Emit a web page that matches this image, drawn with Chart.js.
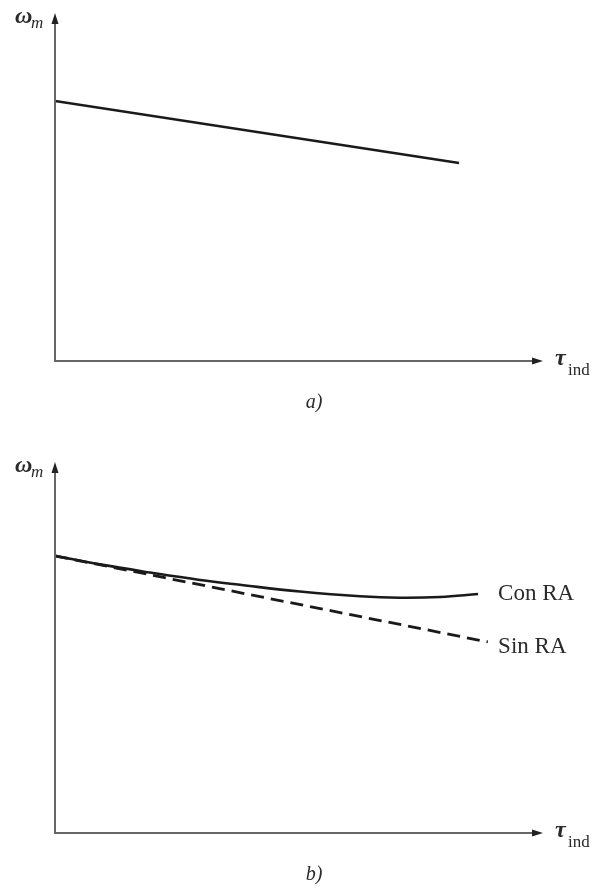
<!DOCTYPE html>
<html>
<head>
<meta charset="utf-8">
<script src="https://cdn.jsdelivr.net/npm/chart.js@4.4.1/dist/chart.umd.min.js"></script>
<style>
  body { margin: 0; background: #fff; }
  canvas { display: block; }
</style>
</head>
<body>
<canvas id="chartA" width="593" height="444"></canvas>
<canvas id="chartB" width="593" height="444"></canvas>
<script>
// torque (x) vs speed (y), arbitrary 0-100 units
const topTorque = [0, 82.8];
const topSpeed = [74.7, 56.9];

const conRaTorque = [0, 9.2, 19.5, 29.7, 37.9, 50.2, 62.5, 70.7, 78.9, 86.7];
const conRaSpeed = [74.7, 72.4, 70.2, 68.2, 66.9, 65.1, 63.8, 63.4, 63.6, 64.4];

const sinRaTorque = [0, 88.7];
const sinRaSpeed = [74.7, 51.5];

const seriesLabels = ["Con RA", "Sin RA"];
const captions = ["a)", "b)"];

const toPoints = (xs, ys) => xs.map((x, i) => ({ x: x, y: ys[i] }));

function drawAxes(chart, caption) {
    const ctx = chart.ctx;
    const a = chart.chartArea;
    ctx.save();
    ctx.strokeStyle = "#666";
    ctx.fillStyle = "#222";
    ctx.lineWidth = 2;
    ctx.beginPath();
    ctx.moveTo(a.left, a.top + 8);
    ctx.lineTo(a.left, a.bottom);
    ctx.lineTo(a.right - 8, a.bottom);
    ctx.stroke();
    // arrow heads
    ctx.beginPath();
    ctx.moveTo(a.left, a.top);
    ctx.lineTo(a.left - 3.5, a.top + 11);
    ctx.lineTo(a.left + 3.5, a.top + 11);
    ctx.closePath();
    ctx.fill();
    ctx.beginPath();
    ctx.moveTo(a.right, a.bottom);
    ctx.lineTo(a.right - 11, a.bottom - 3.5);
    ctx.lineTo(a.right - 11, a.bottom + 3.5);
    ctx.closePath();
    ctx.fill();

    ctx.fillStyle = "#2a2a2a";
    ctx.textBaseline = "alphabetic";
    ctx.textAlign = "left";
    ctx.font = "italic bold 24px 'Liberation Serif'";
    ctx.fillText("\u03c9", 15, a.top + 10);
    ctx.font = "italic 17px 'Liberation Serif'";
    ctx.fillText("m", 31, a.top + 15);

    ctx.font = "italic bold 24px 'Liberation Serif'";
    ctx.fillText("\u03c4", a.right + 12, a.bottom + 4);
    ctx.font = "17px 'Liberation Serif'";
    ctx.fillText("ind", a.right + 25, a.bottom + 14);

    ctx.textAlign = "center";
    ctx.font = "italic 20px 'Liberation Serif'";
    ctx.fillText(caption, 314, chart.height - (caption === "a)" ? 36 : 8));
    ctx.restore();
}

const commonOptions = (pad) => ({
    responsive: false,
    animation: false,
    devicePixelRatio: 1,
    layout: { padding: pad },
    plugins: { legend: { display: false }, tooltip: { enabled: false } },
    scales: {
        x: { type: "linear", min: 0, max: 100, display: false },
        y: { type: "linear", min: 0, max: 100, display: false }
    }
});

new Chart(document.getElementById("chartA"), {
    type: "line",
    data: {
        datasets: [{
            data: toPoints(topTorque, topSpeed),
            borderColor: "#1a1a1a",
            borderWidth: 2.6,
            pointRadius: 0
        }]
    },
    options: commonOptions({ left: 55, right: 50, top: 13, bottom: 83 }),
    plugins: [{
        id: "axesA",
        afterDraw: (chart) => drawAxes(chart, captions[0])
    }]
});

new Chart(document.getElementById("chartB"), {
    type: "line",
    data: {
        datasets: [{
            label: seriesLabels[0],
            data: toPoints(conRaTorque, conRaSpeed),
            borderColor: "#1a1a1a",
            borderWidth: 2.6,
            pointRadius: 0,
            tension: 0.4
        }, {
            label: seriesLabels[1],
            data: toPoints(sinRaTorque, sinRaSpeed),
            borderColor: "#1a1a1a",
            borderWidth: 2.8,
            borderDash: [13, 7],
            pointRadius: 0
        }]
    },
    options: commonOptions({ left: 55, right: 50, top: 18, bottom: 55 }),
    plugins: [{
        id: "axesB",
        afterDraw: (chart) => {
            drawAxes(chart, captions[1]);
            const ctx = chart.ctx;
            const xs = chart.scales.x;
            ctx.save();
            ctx.fillStyle = "#2a2a2a";
            ctx.font = "23px 'Liberation Serif'";
            ctx.textAlign = "left";
            ctx.textBaseline = "middle";
            const offsets = [0, 5];
            chart.data.datasets.forEach((ds, i) => {
                const pts = chart.getDatasetMeta(i).data;
                const last = pts[pts.length - 1];
                ctx.fillText(ds.label, xs.getPixelForValue(90.8), last.y + offsets[i]);
            });
            ctx.restore();
        }
    }]
});
</script>
</body>
</html>
